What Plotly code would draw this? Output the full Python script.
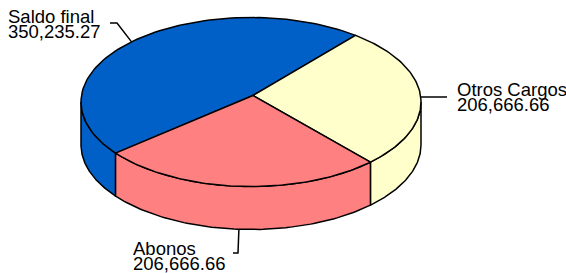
import numpy as np
import plotly.graph_objects as go

# ---- data ----
labels = ["Saldo final", "Otros Cargos", "Abonos"]
values = [350235.27, 206666.66, 206666.66]
colors = ["#0060C8", "#FFFFCC", "#FF8080"]

# ---- geometry of the 3D pie (layout constants) ----
W, H = 566, 273
CX, CY, RX, RY, DEPTH = 251, 102, 170, 84.5, 43
APEX = (253, 95.5)  # perspective-shifted centre of the top face
START = 217.2  # degrees, slices run clockwise
LINE = dict(color="black", width=1.5)

# label layout: elbow, tail, text x, baseline of first line
label_layout = [
    dict(elbow=(117, 23), tail=(110, 23), tx=8, base=23),
    dict(elbow=(447, 97), tail=None, tx=457, base=96),
    dict(elbow=(238, 253), tail=(233, 253), tx=133, base=255),
]
FONT_SIZE = 18.5
LINE_GAP = 15


def pt(a, dy=0.0):
    r = np.radians(a)
    return CX + RX * np.cos(r), CY - RY * np.sin(r) + dy


def arc(a0, a1, dy=0.0, n=90):
    ang = np.linspace(a0, a1, n)
    xs, ys = pt(ang, dy)
    return list(xs), list(ys)


total = float(sum(values))
spans = [v / total * 360.0 for v in values]
his, los = [], []
cum = 0.0
for s in spans:
    hi = START - cum
    his.append(hi)
    los.append(hi - s)
    cum += s

fig = go.Figure()

# side walls (front half only)
for i in range(len(values)):
    lo, hi = los[i], his[i]
    for f0, f1 in [(-540, -360), (-180, 0), (180, 360)]:
        a, b = max(lo, f0), min(hi, f1)
        if b > a:
            tx_, ty_ = arc(a, b)
            bx, by = arc(b, a, DEPTH)
            xs = tx_ + bx + [tx_[0]]
            ys = ty_ + by + [ty_[0]]
            fig.add_trace(go.Scatter(x=xs, y=ys, mode="lines", fill="toself",
                                     fillcolor=colors[i], line=LINE,
                                     hoverinfo="skip", showlegend=False))

# top faces
for i in range(len(values)):
    ax, ay = arc(his[i], los[i])
    xs = [APEX[0]] + ax + [APEX[0]]
    ys = [APEX[1]] + ay + [APEX[1]]
    fig.add_trace(go.Scatter(x=xs, y=ys, mode="lines", fill="toself",
                             fillcolor=colors[i], line=LINE,
                             hoverinfo="skip", showlegend=False))

# leader lines and labels
for i in range(len(values)):
    mid = (los[i] + his[i]) / 2.0
    front = np.sin(np.radians(mid)) < -0.05
    ex, ey = pt(mid, DEPTH if front else 0.0)
    L = label_layout[i]
    xs, ys = [float(ex), L["elbow"][0]], [float(ey), L["elbow"][1]]
    if L["tail"] is not None:
        xs.append(L["tail"][0])
        ys.append(L["tail"][1])
    fig.add_trace(go.Scatter(x=xs, y=ys, mode="lines", line=LINE,
                             hoverinfo="skip", showlegend=False))
    for k, txt in enumerate([labels[i], f"{values[i]:,.2f}"]):
        base = L["base"] + k * LINE_GAP
        fig.add_annotation(x=L["tx"], y=base - 6.3, xref="x", yref="y",
                           text=txt, showarrow=False, xanchor="left",
                           yanchor="middle", borderpad=0, borderwidth=0,
                           font=dict(family="Liberation Sans, Arial", size=FONT_SIZE,
                                     color="black"))

fig.update_layout(
    width=W, height=H, margin=dict(l=0, r=0, t=0, b=0),
    paper_bgcolor="white", plot_bgcolor="white",
    xaxis=dict(range=[0, W], visible=False, fixedrange=True),
    yaxis=dict(range=[H, 0], visible=False, fixedrange=True),
    showlegend=False,
)
fig.write_html("out.html", config={"displayModeBar": False},
               post_script="document.body.style.margin='0px';")
